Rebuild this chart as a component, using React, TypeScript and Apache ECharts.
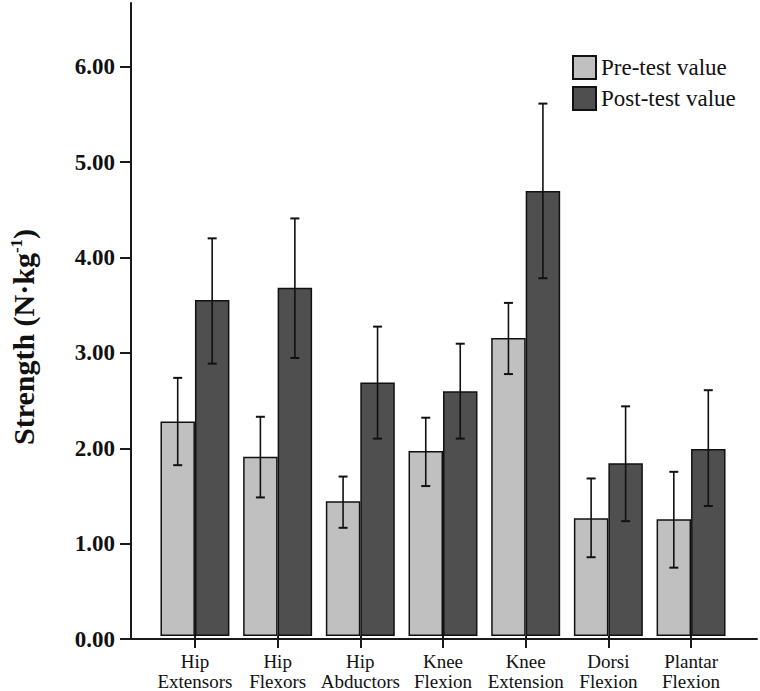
import React, { useEffect, useRef } from "react";
import * as echarts from "echarts";

const categories = [
  "Hip\nExtensors",
  "Hip\nFlexors",
  "Hip\nAbductors",
  "Knee\nFlexion",
  "Knee\nExtension",
  "Dorsi\nFlexion",
  "Plantar\nFlexion",
];
const preMean = [2.26, 1.89, 1.42, 1.95, 3.14, 1.24, 1.23];
const preLow = [1.8, 1.46, 1.14, 1.58, 2.76, 0.83, 0.72];
const preHigh = [2.72, 2.31, 1.68, 2.3, 3.51, 1.66, 1.73];
const postMean = [3.54, 3.67, 2.67, 2.58, 4.69, 1.82, 1.97];
const postLow = [2.87, 2.93, 2.08, 2.08, 3.77, 1.21, 1.37];
const postHigh = [4.19, 4.4, 3.26, 3.08, 5.61, 2.42, 2.59];
const yTicks = [0, 1, 2, 3, 4, 5, 6];
const seriesNames = ["Pre-test value", "Post-test value"];

const SERIF = "'Liberation Serif', 'Times New Roman', serif";
const CAT_GAP = 0.166;

function errorSeries(name: string, low: number[], high: number[], side: number) {
  return {
    type: "custom",
    name: name + " error",
    xAxisIndex: 1,
    yAxisIndex: 1,
    silent: true,
    z: 10,
    data: low.map((l, i) => [i, l, high[i]]),
    renderItem: (params: any, api: any) => {
      const bw = api.size([1, 0])[0];
      const off = (side * bw * (1 - CAT_GAP)) / 4;
      const base = api.coord([api.value(0), api.value(1)]);
      const top = api.coord([api.value(0), api.value(2)]);
      const x = base[0] + off;
      const cap = 4.5;
      const st = { stroke: "#111", lineWidth: 1.6 };
      return {
        type: "group",
        children: [
          { type: "line", shape: { x1: x, y1: base[1], x2: x, y2: top[1] }, style: st },
          { type: "line", shape: { x1: x - cap, y1: base[1], x2: x + cap, y2: base[1] }, style: { ...st, lineWidth: 2 } },
          { type: "line", shape: { x1: x - cap, y1: top[1], x2: x + cap, y2: top[1] }, style: { ...st, lineWidth: 2 } },
        ],
      };
    },
  };
}

export default function App() {
  const ref = useRef<HTMLDivElement>(null);
  useEffect(() => {
    document.body.style.margin = "0";
    const chart = echarts.init(ref.current!, null, { renderer: "svg" });
    const top = 3;
    const bottom = 52;
    const legendText = { fontFamily: SERIF, fontSize: 23, color: "#111", lineHeight: 23 };
    chart.setOption({
      animation: false,
      backgroundColor: "#ffffff",
      textStyle: { fontFamily: SERIF },
      legend: {
        orient: "vertical",
        left: 567,
        top: 50,
        itemWidth: 23,
        itemHeight: 23,
        itemGap: 6,
        icon: "rect",
        data: seriesNames.map((n) => ({ name: n, textStyle: legendText })),
        textStyle: legendText,
      },
      grid: [
        { left: 129, right: 3, top, bottom, containLabel: false },
        { left: 153.6, right: 27.6, top, bottom, containLabel: false },
      ],
      xAxis: [
        {
          type: "value",
          gridIndex: 0,
          min: 0,
          max: 1,
          axisLine: { show: true, onZero: false, lineStyle: { color: "#1a1a1a", width: 2 } },
          axisTick: { show: false },
          axisLabel: { show: false },
          splitLine: { show: false },
        },
        {
          type: "category",
          gridIndex: 1,
          data: categories,
          axisLine: { show: false },
          axisTick: { show: true, alignWithLabel: true, length: 12, lineStyle: { color: "#1a1a1a", width: 2 } },
          axisLabel: {
            interval: 0,
            margin: 15,
            fontFamily: SERIF,
            fontSize: 19,
            lineHeight: 20,
            color: "#111",
          },
        },
      ],
      yAxis: [
        {
          type: "value",
          gridIndex: 0,
          min: 0,
          max: 6.67,
          interval: 1,
          name: "{a|Strength (N·kg}{s|-1}{a|)}",
          nameLocation: "middle",
          nameGap: 92,
          nameRotate: 90,
          nameTextStyle: {
            padding: [0, 32, 0, 0],
            rich: {
              a: { fontFamily: SERIF, fontWeight: "bold", fontSize: 30, color: "#111" },
              s: { fontFamily: SERIF, fontWeight: "bold", fontSize: 17, color: "#111", verticalAlign: "top", padding: [0, 0, 14, 0] },
            },
          },
          axisLine: { show: true, lineStyle: { color: "#1a1a1a", width: 2 } },
          axisTick: { show: true, length: 11, customValues: yTicks, lineStyle: { color: "#1a1a1a", width: 2 } },
          axisLabel: {
            customValues: yTicks,
            margin: 16,
            fontFamily: SERIF,
            fontWeight: "bold",
            fontSize: 23,
            color: "#111",
            formatter: (v: number) => v.toFixed(2),
          },
          splitLine: { show: false },
        },
        {
          type: "value",
          gridIndex: 1,
          min: 0,
          max: 6.67,
          interval: 1,
          show: false,
          splitLine: { show: false },
        },
      ],
      series: [
        {
          type: "bar",
          name: seriesNames[0],
          xAxisIndex: 1,
          yAxisIndex: 1,
          data: preMean,
          barGap: "0%",
          barCategoryGap: (CAT_GAP * 100).toFixed(1) + "%",
          itemStyle: { color: "#c0c0c0", borderColor: "#111", borderWidth: 1.5 },
        },
        {
          type: "bar",
          name: seriesNames[1],
          xAxisIndex: 1,
          yAxisIndex: 1,
          data: postMean,
          barGap: "0%",
          barCategoryGap: (CAT_GAP * 100).toFixed(1) + "%",
          itemStyle: { color: "#4f4f4f", borderColor: "#111", borderWidth: 1.5 },
        },
        errorSeries("pre", preLow, preHigh, -1),
        errorSeries("post", postLow, postHigh, 1),
      ],
    });
    return () => chart.dispose();
  }, []);
  return <div ref={ref} style={{ width: 760, height: 691 }} />;
}
